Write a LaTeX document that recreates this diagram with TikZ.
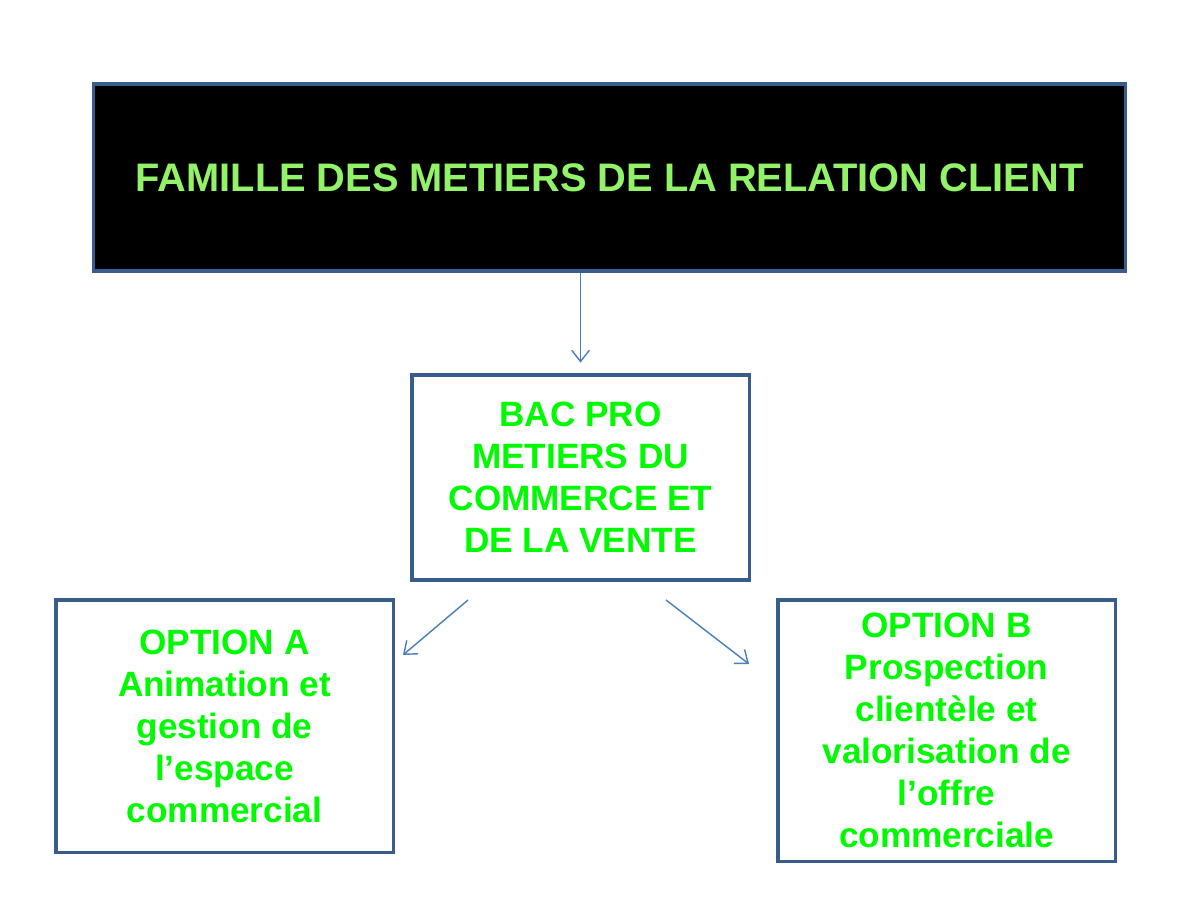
\documentclass[tikz,border=0pt]{standalone}
\usepackage{fontspec}
\setmainfont{Liberation Sans}
\usetikzlibrary{arrows.meta, positioning, calc}
\definecolor{boxline}{RGB}{56,93,138}
\definecolor{arrowblue}{RGB}{74,126,187}
\definecolor{titlegreen}{RGB}{146,243,104}
\definecolor{optgreen}{RGB}{0,250,0}
\tikzset{
  titlebox/.style={rectangle, draw=boxline, line width=2.2pt, fill=black,
    minimum width=25.775cm, minimum height=4.675cm, text centered,
    text=titlegreen, font=\fontsize{28.3}{30}\selectfont\bfseries},
  optbox/.style={rectangle, draw=boxline, line width=2.2pt, fill=white,
    minimum width=8.425cm, text centered, align=center,
    text=optgreen, font=\fontsize{25}{29.9}\selectfont\bfseries},
  arr/.style={-{Straight Barb[length=2.8mm, width=4.4mm]}, line width=1pt, draw=arrowblue},
}
\begin{document}
\begin{tikzpicture}[x=0.025cm, y=-0.025cm]
  \useasboundingbox (0,0) rectangle (1200,900);
  \node[titlebox] (famille) at (609.5,177.5) {\raisebox{-2.2pt}{FAMILLE DES METIERS DE LA RELATION CLIENT}};
  \node[optbox, minimum height=5.125cm] (bac) at (580.5,477.5)
    {BAC PRO\\METIERS DU\\COMMERCE ET\\DE LA VENTE};
  \node[optbox, minimum height=6.3cm] (opta) at (224.5,726)
    {OPTION A\\Animation et\\gestion de\\l’espace\\commercial};
  \node[optbox, minimum height=6.525cm] (optb) at (946.5,730.5)
    {OPTION B\\Prospection\\clientèle et\\valorisation de\\l’offre\\commerciale};

  \coordinate (a1) at (468,600);
  \coordinate (a2) at (403,655);
  \coordinate (b1) at (666,600);
  \coordinate (b2) at (749,664);

  \draw[arr, shorten >=0.27cm] (famille.south -| bac.north) -- (bac.north);
  \draw[arr] (a1) -- (a2);
  \draw[arr] (b1) -- (b2);
\end{tikzpicture}
\end{document}
